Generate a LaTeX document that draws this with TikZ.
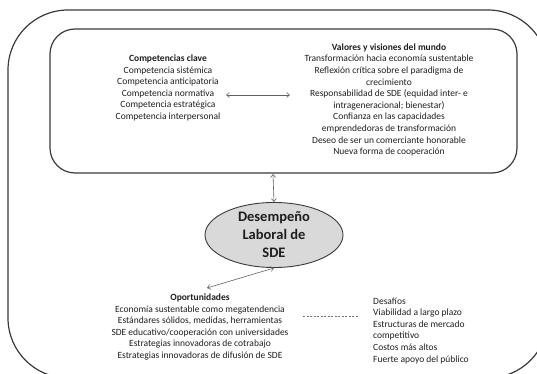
\documentclass[tikz,border=0pt]{standalone}
\usepackage{fontspec}
\setmainfont{Carlito}
\usetikzlibrary{arrows.meta,shapes.geometric,calc}
\definecolor{txt}{HTML}{1E1E1E}
\definecolor{linec}{HTML}{3A3A3A}
\definecolor{ellfill}{HTML}{D9D9D9}
\tikzset{
  frame/.style={draw=linec,line width=1.2pt},
  block/.style={align=center,text=txt,inner sep=2pt},
  smalltext/.style={font=\fontsize{9.5}{11.6}\selectfont},
  dbl/.style={draw=linec!80,line width=0.6pt,{Straight Barb[length=3pt,width=5pt]}-{Straight Barb[length=3pt,width=5pt]}},
  core/.style={ellipse,draw=linec,line width=0.9pt,fill=ellfill,minimum width=138pt,minimum height=65pt,inner sep=0pt,align=center,text=txt,font=\fontsize{14.5}{18}\selectfont\bfseries}
}
\begin{document}
\begin{tikzpicture}[x=1pt,y=-1pt]
\useasboundingbox (0,0) rectangle (537,374);
\begin{scope}
\clip (0,0) rectangle (537,374);
\draw[frame,rounded corners=60pt] (8,10) rectangle (548,378);
\end{scope}
\draw[frame,rounded corners=25pt] (50,29) rectangle (517,173);
\node[block,smalltext] (comp) at (168,88) {\textbf{Competencias clave}\\Competencia sistémica\\Competencia anticipatoria\\Competencia normativa\\Competencia estratégica\\Competencia interpersonal};
\node[block,smalltext] (val) at (389,100) {\textbf{Valores y visiones del mundo}\\Transformación hacia economía sustentable\\Reflexión crítica sobre el paradigma de\\crecimiento\\Responsabilidad de SDE (equidad inter- e\\intrageneracional; bienestar)\\Confianza en las capacidades\\emprendedoras de transformación\\Deseo de ser un comerciante honorable\\Nueva forma de cooperación};
\node[core] (sde) at (274,235) {Desempeño\\Laboral de\\SDE};
\node[block,smalltext] (opp) at (200,327) {\textbf{Oportunidades}\\Economía sustentable como megatendencia\\Estándares sólidos, medidas, herramientas\\SDE educativo/cooperación con universidades\\Estrategias innovadoras de cotrabajo\\Estrategias innovadoras de difusión de SDE};
\node[block,smalltext,align=left,anchor=west] (des) at (371,330.5) {Desafíos\\Viabilidad a largo plazo\\Estructuras de mercado\\competitivo\\Costos más altos\\Fuerte apoyo del público};
\coordinate (a1) at (226,95);
\coordinate (a2) at (290,95);
\coordinate (b1) at (273,174);
\coordinate (c2) at (207,288);
\coordinate (d1) at (303,316);
\coordinate (d2) at (359,316);
\draw[dbl] (a1) -- (a2);
\draw[dbl] (b1) -- (sde.north);
\draw[dbl] (sde.south) -- (c2);
\draw[draw=linec!70,line width=0.6pt,dash pattern=on 2pt off 1.5pt] (d1) -- (d2);
\end{tikzpicture}
\end{document}
